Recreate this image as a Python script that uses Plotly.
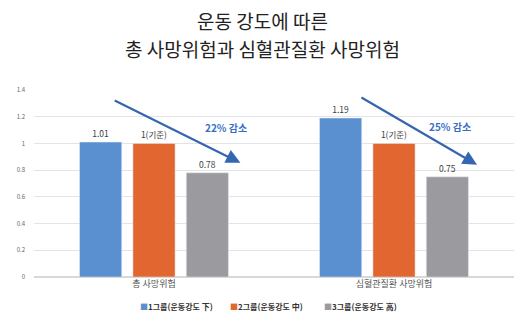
import plotly.graph_objects as go

categories = ["총 사망위험", "심혈관질환 사망위험"]
series_names = ["1그룹(운동강도 下)", "2그룹(운동강도 中)", "3그룹(운동강도 高)"]
values = [
    [1.01, 1.19],
    [1.00, 1.00],
    [0.78, 0.75],
]
labels = [
    ["1.01", "1.19"],
    ["1(기준)", "1(기준)"],
    ["0.78", "0.75"],
]
colors = ["#5a8fd0", "#e2662f", "#9b9b9f"]
reductions = ["22% 감소", "25% 감소"]
y_ticks = [0, 0.2, 0.4, 0.6, 0.8, 1, 1.2, 1.4]
title_lines = ["운동 강도에 따른", "총 사망위험과 심혈관질환 사망위험"]

FONT = "Noto Sans CJK KR"
L, R, T, B = 34, 11, 90, 59
W, H = 525, 336
PW, PH = W - L - R, H - T - B

fig = go.Figure()
for name, vals, labs, col in zip(series_names, values, labels, colors):
    fig.add_trace(go.Bar(
        x=categories, y=vals, name=name, marker_color=col,
        text=labs, textposition="outside", cliponaxis=False,
        textfont=dict(size=8.5, color="#404040", family=FONT),
    ))

# arrows (category index positions)
arrows = [
    (-0.17, 1.327, 0.36, 0.855),
    (0.858, 1.35, 1.346, 0.84),
]
for (x0, y0, x1, y1) in arrows:
    fig.add_annotation(
        x=x1, y=y1, ax=x0, ay=y0, xref="x", yref="y", axref="x", ayref="y",
        showarrow=True, arrowhead=2, arrowsize=1.3, arrowwidth=2.2,
        arrowcolor="#3566b0", text="",
    )
text_pos = [(0.30, 1.117), (1.233, 1.125)]
for txt, (tx, ty) in zip(reductions, text_pos):
    fig.add_annotation(
        x=tx, y=ty, xref="x", yref="y", text=f"<b>{txt}</b>", showarrow=False,
        font=dict(size=10, color="#3a6fc4", family=FONT),
    )

# legend as text entries with coloured squares
legend_px = [138, 228, 322]
for name, col, px in zip(series_names, colors, legend_px):
    fig.add_annotation(
        x=(px - L) / PW, y=(T + PH - 306) / PH, xref="paper", yref="paper",
        xanchor="left", yanchor="middle", showarrow=False,
        text=f"<span style='color:{col}'>■</span><b>{name}</b>",
        font=dict(size=8, color="#333333", family=FONT),
    )

# second title line
fig.add_annotation(
    x=0.5, y=1 - 48 / H, xref="paper", yref="container" if False else "paper",
    showarrow=False, text=title_lines[1],
    font=dict(size=19, color="#222222", family=FONT),
    yanchor="middle", xanchor="center",
)
fig.layout.annotations[-1].update(x=(262 - L) / PW, y=(T + PH - 48) / PH)

fig.update_layout(
    width=W, height=H,
    margin=dict(l=L, r=R, t=T, b=B),
    paper_bgcolor="white", plot_bgcolor="white",
    title=dict(
        text=title_lines[0],
        x=0.5, xanchor="center", yref="container", y=1 - 22 / H, yanchor="middle",
        font=dict(size=19, color="#222222", family=FONT),
    ),
    barmode="group", bargap=0.333, bargroupgap=0.21,
    font=dict(family=FONT),
    showlegend=False,
)
fig.update_xaxes(
    tickfont=dict(size=9, color="#555555", family=FONT),
    showline=False, ticks="",
)
fig.update_yaxes(
    range=[0, 1.4], tickvals=y_ticks, ticktext=[f"{v:g}" for v in y_ticks],
    tickfont=dict(size=6, color="#666666", family=FONT),
    gridcolor="#e4e4e4", gridwidth=1, zeroline=True, zerolinecolor="#d8d8d8",
    ticklabelstandoff=8,
)

fig.write_html("out.html")
